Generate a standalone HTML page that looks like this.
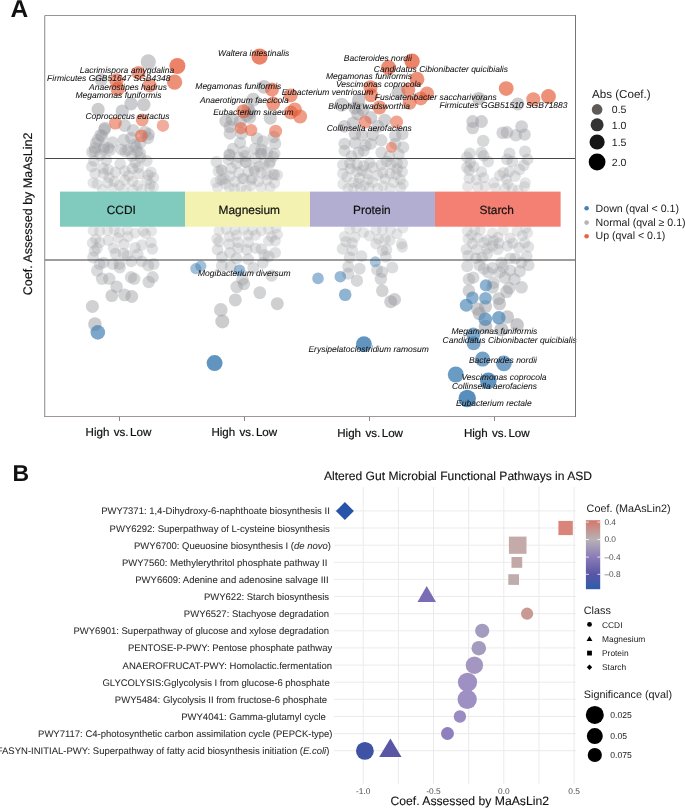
<!DOCTYPE html>
<html><head><meta charset="utf-8"><style>
html,body{margin:0;padding:0;background:#fff;}
svg{display:block;font-family:"Liberation Sans", sans-serif;text-rendering:geometricPrecision;will-change:transform;}
</style></head><body>
<svg width="685" height="808" viewBox="0 0 685 808">
<defs><filter id="sb" x="-5%" y="-5%" width="110%" height="110%"><feGaussianBlur stdDeviation="0.35"/></filter></defs>
<rect width="685" height="808" fill="#ffffff"/>
<text x="10.4" y="16.8" font-size="24.5" font-weight="bold" fill="#111111">A</text>
<g filter="url(#sb)">
<circle cx="148.3" cy="61.8" r="7.6" fill="#999aa0" fill-opacity="0.50"/>
<circle cx="101.1" cy="79.8" r="6.5" fill="#999aa0" fill-opacity="0.45"/>
<circle cx="98.1" cy="109.4" r="6.6" fill="#999aa0" fill-opacity="0.49"/>
<circle cx="131.0" cy="103.8" r="6.7" fill="#999aa0" fill-opacity="0.51"/>
<circle cx="143.8" cy="104.6" r="6.7" fill="#999aa0" fill-opacity="0.50"/>
<circle cx="122.2" cy="111.0" r="6.6" fill="#999aa0" fill-opacity="0.48"/>
<circle cx="124.6" cy="125.5" r="6.4" fill="#999aa0" fill-opacity="0.44"/>
<circle cx="104.5" cy="129.5" r="6.3" fill="#999aa0" fill-opacity="0.42"/>
<circle cx="100.5" cy="135.1" r="6.2" fill="#999aa0" fill-opacity="0.41"/>
<circle cx="148.7" cy="134.3" r="6.2" fill="#999aa0" fill-opacity="0.41"/>
<circle cx="112.5" cy="142.4" r="6.1" fill="#999aa0" fill-opacity="0.38"/>
<circle cx="123.8" cy="140.0" r="6.2" fill="#999aa0" fill-opacity="0.39"/>
<circle cx="94.9" cy="148.0" r="6.1" fill="#999aa0" fill-opacity="0.36"/>
<circle cx="103.7" cy="149.6" r="6.0" fill="#999aa0" fill-opacity="0.36"/>
<circle cx="121.4" cy="149.6" r="6.0" fill="#999aa0" fill-opacity="0.36"/>
<circle cx="137.4" cy="151.2" r="6.0" fill="#999aa0" fill-opacity="0.35"/>
<circle cx="134.2" cy="144.8" r="6.1" fill="#999aa0" fill-opacity="0.37"/>
<circle cx="140.6" cy="157.6" r="5.9" fill="#999aa0" fill-opacity="0.33"/>
<circle cx="94.0" cy="160.8" r="5.9" fill="#999aa0" fill-opacity="0.32"/>
<circle cx="133.2" cy="130.3" r="6.3" fill="#999aa0" fill-opacity="0.42"/>
<circle cx="140.4" cy="142.7" r="6.1" fill="#999aa0" fill-opacity="0.38"/>
<circle cx="131.2" cy="138.1" r="6.2" fill="#999aa0" fill-opacity="0.40"/>
<circle cx="94.5" cy="151.3" r="6.0" fill="#999aa0" fill-opacity="0.35"/>
<circle cx="108.3" cy="148.0" r="6.1" fill="#999aa0" fill-opacity="0.36"/>
<circle cx="125.3" cy="151.3" r="6.0" fill="#999aa0" fill-opacity="0.35"/>
<circle cx="106.3" cy="159.8" r="5.9" fill="#999aa0" fill-opacity="0.33"/>
<circle cx="120.1" cy="163.8" r="5.8" fill="#999aa0" fill-opacity="0.31"/>
<circle cx="135.2" cy="162.5" r="5.9" fill="#999aa0" fill-opacity="0.32"/>
<circle cx="132.6" cy="168.4" r="5.8" fill="#999aa0" fill-opacity="0.30"/>
<circle cx="108.3" cy="169.7" r="5.8" fill="#999aa0" fill-opacity="0.29"/>
<circle cx="103.0" cy="168.4" r="5.8" fill="#999aa0" fill-opacity="0.30"/>
<circle cx="95.1" cy="173.6" r="5.7" fill="#999aa0" fill-opacity="0.28"/>
<circle cx="115.5" cy="172.3" r="5.7" fill="#999aa0" fill-opacity="0.29"/>
<circle cx="124.7" cy="171.0" r="5.7" fill="#999aa0" fill-opacity="0.29"/>
<circle cx="128.6" cy="175.6" r="5.7" fill="#999aa0" fill-opacity="0.28"/>
<circle cx="139.1" cy="173.6" r="5.7" fill="#999aa0" fill-opacity="0.28"/>
<circle cx="148.3" cy="174.9" r="5.7" fill="#999aa0" fill-opacity="0.28"/>
<circle cx="151.0" cy="172.3" r="5.7" fill="#999aa0" fill-opacity="0.29"/>
<circle cx="93.1" cy="182.8" r="5.6" fill="#999aa0" fill-opacity="0.25"/>
<circle cx="97.1" cy="184.1" r="5.5" fill="#999aa0" fill-opacity="0.25"/>
<circle cx="107.6" cy="182.8" r="5.6" fill="#999aa0" fill-opacity="0.25"/>
<circle cx="114.2" cy="181.5" r="5.6" fill="#999aa0" fill-opacity="0.26"/>
<circle cx="119.4" cy="185.4" r="5.5" fill="#999aa0" fill-opacity="0.24"/>
<circle cx="124.7" cy="180.2" r="5.6" fill="#999aa0" fill-opacity="0.26"/>
<circle cx="132.6" cy="181.5" r="5.6" fill="#999aa0" fill-opacity="0.26"/>
<circle cx="137.8" cy="185.4" r="5.5" fill="#999aa0" fill-opacity="0.24"/>
<circle cx="147.0" cy="180.2" r="5.6" fill="#999aa0" fill-opacity="0.26"/>
<circle cx="150.3" cy="184.1" r="5.5" fill="#999aa0" fill-opacity="0.25"/>
<circle cx="153.6" cy="177.6" r="5.6" fill="#999aa0" fill-opacity="0.27"/>
<circle cx="102.3" cy="189.4" r="5.5" fill="#999aa0" fill-opacity="0.23"/>
<circle cx="112.9" cy="188.1" r="5.5" fill="#999aa0" fill-opacity="0.23"/>
<circle cx="123.4" cy="189.4" r="5.5" fill="#999aa0" fill-opacity="0.23"/>
<circle cx="132.6" cy="189.4" r="5.5" fill="#999aa0" fill-opacity="0.23"/>
<circle cx="141.8" cy="189.4" r="5.5" fill="#999aa0" fill-opacity="0.23"/>
<circle cx="149.6" cy="188.1" r="5.5" fill="#999aa0" fill-opacity="0.23"/>
<circle cx="153.6" cy="186.8" r="5.5" fill="#999aa0" fill-opacity="0.24"/>
<circle cx="93.1" cy="230.5" r="5.5" fill="#999aa0" fill-opacity="0.24"/>
<circle cx="99.7" cy="231.2" r="5.5" fill="#999aa0" fill-opacity="0.24"/>
<circle cx="107.6" cy="230.5" r="5.5" fill="#999aa0" fill-opacity="0.24"/>
<circle cx="114.2" cy="229.9" r="5.5" fill="#999aa0" fill-opacity="0.23"/>
<circle cx="119.4" cy="232.5" r="5.5" fill="#999aa0" fill-opacity="0.24"/>
<circle cx="127.3" cy="229.9" r="5.5" fill="#999aa0" fill-opacity="0.23"/>
<circle cx="135.2" cy="233.2" r="5.5" fill="#999aa0" fill-opacity="0.24"/>
<circle cx="143.1" cy="231.2" r="5.5" fill="#999aa0" fill-opacity="0.24"/>
<circle cx="145.7" cy="233.8" r="5.5" fill="#999aa0" fill-opacity="0.25"/>
<circle cx="151.6" cy="231.2" r="5.5" fill="#999aa0" fill-opacity="0.24"/>
<circle cx="92.5" cy="243.0" r="5.7" fill="#999aa0" fill-opacity="0.28"/>
<circle cx="95.8" cy="239.1" r="5.6" fill="#999aa0" fill-opacity="0.26"/>
<circle cx="99.7" cy="242.4" r="5.7" fill="#999aa0" fill-opacity="0.27"/>
<circle cx="108.3" cy="240.4" r="5.6" fill="#999aa0" fill-opacity="0.27"/>
<circle cx="118.1" cy="237.8" r="5.6" fill="#999aa0" fill-opacity="0.26"/>
<circle cx="128.0" cy="236.5" r="5.6" fill="#999aa0" fill-opacity="0.26"/>
<circle cx="124.0" cy="244.3" r="5.7" fill="#999aa0" fill-opacity="0.28"/>
<circle cx="141.8" cy="245.0" r="5.7" fill="#999aa0" fill-opacity="0.28"/>
<circle cx="151.0" cy="242.4" r="5.7" fill="#999aa0" fill-opacity="0.27"/>
<circle cx="152.3" cy="248.9" r="5.8" fill="#999aa0" fill-opacity="0.30"/>
<circle cx="135.2" cy="247.6" r="5.7" fill="#999aa0" fill-opacity="0.29"/>
<circle cx="137.8" cy="254.2" r="5.8" fill="#999aa0" fill-opacity="0.31"/>
<circle cx="113.5" cy="248.3" r="5.7" fill="#999aa0" fill-opacity="0.29"/>
<circle cx="115.5" cy="253.5" r="5.8" fill="#999aa0" fill-opacity="0.31"/>
<circle cx="123.4" cy="253.5" r="5.8" fill="#999aa0" fill-opacity="0.31"/>
<circle cx="127.3" cy="255.5" r="5.8" fill="#999aa0" fill-opacity="0.32"/>
<circle cx="94.5" cy="250.9" r="5.8" fill="#999aa0" fill-opacity="0.30"/>
<circle cx="93.1" cy="257.5" r="5.9" fill="#999aa0" fill-opacity="0.32"/>
<circle cx="97.1" cy="248.3" r="5.7" fill="#999aa0" fill-opacity="0.29"/>
<circle cx="103.7" cy="262.7" r="5.9" fill="#999aa0" fill-opacity="0.34"/>
<circle cx="99.7" cy="264.0" r="6.0" fill="#999aa0" fill-opacity="0.34"/>
<circle cx="112.9" cy="264.0" r="6.0" fill="#999aa0" fill-opacity="0.34"/>
<circle cx="119.4" cy="264.0" r="6.0" fill="#999aa0" fill-opacity="0.34"/>
<circle cx="131.2" cy="261.4" r="5.9" fill="#999aa0" fill-opacity="0.34"/>
<circle cx="141.8" cy="261.4" r="5.9" fill="#999aa0" fill-opacity="0.34"/>
<circle cx="148.3" cy="265.4" r="6.0" fill="#999aa0" fill-opacity="0.35"/>
<circle cx="153.6" cy="264.0" r="6.0" fill="#999aa0" fill-opacity="0.34"/>
<circle cx="97.1" cy="270.6" r="6.1" fill="#999aa0" fill-opacity="0.36"/>
<circle cx="119.8" cy="267.6" r="6.0" fill="#999aa0" fill-opacity="0.36"/>
<circle cx="102.1" cy="278.8" r="6.2" fill="#999aa0" fill-opacity="0.39"/>
<circle cx="109.3" cy="278.8" r="6.2" fill="#999aa0" fill-opacity="0.39"/>
<circle cx="131.0" cy="277.2" r="6.1" fill="#999aa0" fill-opacity="0.39"/>
<circle cx="134.2" cy="278.8" r="6.2" fill="#999aa0" fill-opacity="0.39"/>
<circle cx="148.7" cy="282.0" r="6.2" fill="#999aa0" fill-opacity="0.40"/>
<circle cx="152.7" cy="277.2" r="6.1" fill="#999aa0" fill-opacity="0.39"/>
<circle cx="116.6" cy="286.8" r="6.3" fill="#999aa0" fill-opacity="0.42"/>
<circle cx="111.8" cy="295.7" r="6.4" fill="#999aa0" fill-opacity="0.45"/>
<circle cx="124.6" cy="294.9" r="6.4" fill="#999aa0" fill-opacity="0.44"/>
<circle cx="131.8" cy="296.5" r="6.4" fill="#999aa0" fill-opacity="0.45"/>
<circle cx="92.4" cy="306.4" r="6.5" fill="#999aa0" fill-opacity="0.45"/>
<circle cx="94.9" cy="324.1" r="6.8" fill="#999aa0" fill-opacity="0.50"/>
<circle cx="264.0" cy="86.9" r="6.8" fill="#999aa0" fill-opacity="0.50"/>
<circle cx="253.2" cy="99.8" r="7.0" fill="#999aa0" fill-opacity="0.45"/>
<circle cx="248.2" cy="109.0" r="6.6" fill="#999aa0" fill-opacity="0.49"/>
<circle cx="270.3" cy="118.2" r="6.5" fill="#999aa0" fill-opacity="0.46"/>
<circle cx="249.9" cy="112.4" r="6.5" fill="#999aa0" fill-opacity="0.48"/>
<circle cx="225.7" cy="121.0" r="6.4" fill="#999aa0" fill-opacity="0.45"/>
<circle cx="232.1" cy="119.4" r="6.5" fill="#999aa0" fill-opacity="0.46"/>
<circle cx="240.1" cy="121.8" r="6.4" fill="#999aa0" fill-opacity="0.45"/>
<circle cx="246.6" cy="115.4" r="6.5" fill="#999aa0" fill-opacity="0.47"/>
<circle cx="249.6" cy="117.3" r="6.5" fill="#999aa0" fill-opacity="0.46"/>
<circle cx="229.9" cy="133.4" r="6.3" fill="#999aa0" fill-opacity="0.41"/>
<circle cx="229.9" cy="126.8" r="6.3" fill="#999aa0" fill-opacity="0.43"/>
<circle cx="241.6" cy="133.4" r="6.3" fill="#999aa0" fill-opacity="0.41"/>
<circle cx="256.9" cy="138.5" r="6.2" fill="#999aa0" fill-opacity="0.39"/>
<circle cx="262.8" cy="141.4" r="6.1" fill="#999aa0" fill-opacity="0.39"/>
<circle cx="273.7" cy="137.0" r="6.2" fill="#999aa0" fill-opacity="0.40"/>
<circle cx="275.2" cy="143.6" r="6.1" fill="#999aa0" fill-opacity="0.38"/>
<circle cx="240.1" cy="142.8" r="6.1" fill="#999aa0" fill-opacity="0.38"/>
<circle cx="232.8" cy="148.7" r="6.0" fill="#999aa0" fill-opacity="0.36"/>
<circle cx="243.8" cy="151.6" r="6.0" fill="#999aa0" fill-opacity="0.35"/>
<circle cx="254.7" cy="148.7" r="6.0" fill="#999aa0" fill-opacity="0.36"/>
<circle cx="261.3" cy="149.4" r="6.0" fill="#999aa0" fill-opacity="0.36"/>
<circle cx="229.2" cy="154.5" r="6.0" fill="#999aa0" fill-opacity="0.34"/>
<circle cx="228.5" cy="159.6" r="5.9" fill="#999aa0" fill-opacity="0.33"/>
<circle cx="238.7" cy="157.4" r="5.9" fill="#999aa0" fill-opacity="0.33"/>
<circle cx="245.3" cy="156.0" r="5.9" fill="#999aa0" fill-opacity="0.34"/>
<circle cx="255.5" cy="158.2" r="5.9" fill="#999aa0" fill-opacity="0.33"/>
<circle cx="261.3" cy="153.8" r="6.0" fill="#999aa0" fill-opacity="0.35"/>
<circle cx="267.2" cy="152.3" r="6.0" fill="#999aa0" fill-opacity="0.35"/>
<circle cx="273.0" cy="156.7" r="5.9" fill="#999aa0" fill-opacity="0.34"/>
<circle cx="274.5" cy="153.8" r="6.0" fill="#999aa0" fill-opacity="0.35"/>
<circle cx="236.5" cy="163.3" r="5.8" fill="#999aa0" fill-opacity="0.31"/>
<circle cx="245.3" cy="161.8" r="5.9" fill="#999aa0" fill-opacity="0.32"/>
<circle cx="264.2" cy="164.0" r="5.8" fill="#999aa0" fill-opacity="0.31"/>
<circle cx="270.1" cy="161.8" r="5.9" fill="#999aa0" fill-opacity="0.32"/>
<circle cx="218.2" cy="171.3" r="5.7" fill="#999aa0" fill-opacity="0.29"/>
<circle cx="221.9" cy="169.9" r="5.7" fill="#999aa0" fill-opacity="0.29"/>
<circle cx="231.4" cy="168.4" r="5.8" fill="#999aa0" fill-opacity="0.30"/>
<circle cx="238.7" cy="172.8" r="5.7" fill="#999aa0" fill-opacity="0.28"/>
<circle cx="248.2" cy="171.3" r="5.7" fill="#999aa0" fill-opacity="0.29"/>
<circle cx="254.0" cy="168.4" r="5.8" fill="#999aa0" fill-opacity="0.30"/>
<circle cx="261.3" cy="172.8" r="5.7" fill="#999aa0" fill-opacity="0.28"/>
<circle cx="273.0" cy="174.2" r="5.7" fill="#999aa0" fill-opacity="0.28"/>
<circle cx="277.4" cy="175.0" r="5.7" fill="#999aa0" fill-opacity="0.28"/>
<circle cx="220.4" cy="180.1" r="5.6" fill="#999aa0" fill-opacity="0.26"/>
<circle cx="224.8" cy="178.6" r="5.6" fill="#999aa0" fill-opacity="0.27"/>
<circle cx="235.0" cy="181.5" r="5.6" fill="#999aa0" fill-opacity="0.26"/>
<circle cx="243.8" cy="178.6" r="5.6" fill="#999aa0" fill-opacity="0.27"/>
<circle cx="251.1" cy="180.1" r="5.6" fill="#999aa0" fill-opacity="0.26"/>
<circle cx="258.4" cy="181.5" r="5.6" fill="#999aa0" fill-opacity="0.26"/>
<circle cx="267.2" cy="180.1" r="5.6" fill="#999aa0" fill-opacity="0.26"/>
<circle cx="274.5" cy="183.0" r="5.6" fill="#999aa0" fill-opacity="0.25"/>
<circle cx="217.5" cy="187.4" r="5.5" fill="#999aa0" fill-opacity="0.24"/>
<circle cx="229.2" cy="187.4" r="5.5" fill="#999aa0" fill-opacity="0.24"/>
<circle cx="240.9" cy="187.4" r="5.5" fill="#999aa0" fill-opacity="0.24"/>
<circle cx="251.1" cy="185.9" r="5.5" fill="#999aa0" fill-opacity="0.24"/>
<circle cx="261.3" cy="187.4" r="5.5" fill="#999aa0" fill-opacity="0.24"/>
<circle cx="270.1" cy="187.4" r="5.5" fill="#999aa0" fill-opacity="0.24"/>
<circle cx="219.0" cy="230.8" r="5.5" fill="#999aa0" fill-opacity="0.24"/>
<circle cx="226.3" cy="229.3" r="5.5" fill="#999aa0" fill-opacity="0.23"/>
<circle cx="235.0" cy="230.0" r="5.5" fill="#999aa0" fill-opacity="0.23"/>
<circle cx="243.8" cy="229.3" r="5.5" fill="#999aa0" fill-opacity="0.23"/>
<circle cx="252.6" cy="230.0" r="5.5" fill="#999aa0" fill-opacity="0.23"/>
<circle cx="261.3" cy="230.8" r="5.5" fill="#999aa0" fill-opacity="0.24"/>
<circle cx="268.6" cy="229.3" r="5.5" fill="#999aa0" fill-opacity="0.23"/>
<circle cx="275.9" cy="227.8" r="5.5" fill="#999aa0" fill-opacity="0.23"/>
<circle cx="277.4" cy="234.4" r="5.6" fill="#999aa0" fill-opacity="0.25"/>
<circle cx="271.5" cy="236.6" r="5.6" fill="#999aa0" fill-opacity="0.26"/>
<circle cx="275.2" cy="241.0" r="5.6" fill="#999aa0" fill-opacity="0.27"/>
<circle cx="268.6" cy="241.0" r="5.6" fill="#999aa0" fill-opacity="0.27"/>
<circle cx="216.8" cy="238.8" r="5.6" fill="#999aa0" fill-opacity="0.26"/>
<circle cx="219.0" cy="241.7" r="5.7" fill="#999aa0" fill-opacity="0.27"/>
<circle cx="229.2" cy="236.6" r="5.6" fill="#999aa0" fill-opacity="0.26"/>
<circle cx="236.5" cy="235.1" r="5.6" fill="#999aa0" fill-opacity="0.25"/>
<circle cx="248.2" cy="235.1" r="5.6" fill="#999aa0" fill-opacity="0.25"/>
<circle cx="255.5" cy="235.1" r="5.6" fill="#999aa0" fill-opacity="0.25"/>
<circle cx="229.2" cy="243.9" r="5.7" fill="#999aa0" fill-opacity="0.28"/>
<circle cx="238.0" cy="242.4" r="5.7" fill="#999aa0" fill-opacity="0.27"/>
<circle cx="248.2" cy="242.4" r="5.7" fill="#999aa0" fill-opacity="0.27"/>
<circle cx="217.5" cy="249.7" r="5.8" fill="#999aa0" fill-opacity="0.30"/>
<circle cx="229.9" cy="252.7" r="5.8" fill="#999aa0" fill-opacity="0.31"/>
<circle cx="238.0" cy="248.3" r="5.7" fill="#999aa0" fill-opacity="0.29"/>
<circle cx="246.7" cy="249.7" r="5.8" fill="#999aa0" fill-opacity="0.30"/>
<circle cx="255.5" cy="248.3" r="5.7" fill="#999aa0" fill-opacity="0.29"/>
<circle cx="261.3" cy="249.0" r="5.8" fill="#999aa0" fill-opacity="0.30"/>
<circle cx="264.2" cy="254.8" r="5.8" fill="#999aa0" fill-opacity="0.31"/>
<circle cx="268.6" cy="256.3" r="5.9" fill="#999aa0" fill-opacity="0.32"/>
<circle cx="275.2" cy="252.7" r="5.8" fill="#999aa0" fill-opacity="0.31"/>
<circle cx="221.9" cy="257.0" r="5.9" fill="#999aa0" fill-opacity="0.32"/>
<circle cx="236.5" cy="258.5" r="5.9" fill="#999aa0" fill-opacity="0.33"/>
<circle cx="248.2" cy="259.2" r="5.9" fill="#999aa0" fill-opacity="0.33"/>
<circle cx="262.8" cy="262.9" r="5.9" fill="#999aa0" fill-opacity="0.34"/>
<circle cx="221.9" cy="265.8" r="6.0" fill="#999aa0" fill-opacity="0.35"/>
<circle cx="230.7" cy="266.5" r="6.0" fill="#999aa0" fill-opacity="0.35"/>
<circle cx="253.3" cy="268.0" r="6.0" fill="#999aa0" fill-opacity="0.36"/>
<circle cx="236.7" cy="286.9" r="6.3" fill="#999aa0" fill-opacity="0.42"/>
<circle cx="244.0" cy="284.1" r="6.2" fill="#999aa0" fill-opacity="0.41"/>
<circle cx="242.5" cy="279.5" r="6.2" fill="#999aa0" fill-opacity="0.39"/>
<circle cx="271.6" cy="275.7" r="6.1" fill="#999aa0" fill-opacity="0.38"/>
<circle cx="259.8" cy="292.6" r="6.4" fill="#999aa0" fill-opacity="0.44"/>
<circle cx="235.3" cy="299.9" r="6.5" fill="#999aa0" fill-opacity="0.46"/>
<circle cx="277.3" cy="303.7" r="6.5" fill="#999aa0" fill-opacity="0.47"/>
<circle cx="220.8" cy="309.9" r="6.8" fill="#999aa0" fill-opacity="0.45"/>
<circle cx="222.3" cy="321.4" r="7.0" fill="#999aa0" fill-opacity="0.50"/>
<circle cx="341.6" cy="104.8" r="7.0" fill="#999aa0" fill-opacity="0.45"/>
<circle cx="398.5" cy="92.4" r="7.0" fill="#999aa0" fill-opacity="0.50"/>
<circle cx="358.7" cy="100.0" r="6.7" fill="#999aa0" fill-opacity="0.52"/>
<circle cx="357.7" cy="114.0" r="6.5" fill="#999aa0" fill-opacity="0.47"/>
<circle cx="355.0" cy="107.9" r="6.6" fill="#999aa0" fill-opacity="0.49"/>
<circle cx="362.9" cy="109.6" r="6.6" fill="#999aa0" fill-opacity="0.49"/>
<circle cx="370.8" cy="117.5" r="6.5" fill="#999aa0" fill-opacity="0.46"/>
<circle cx="384.8" cy="120.1" r="6.4" fill="#999aa0" fill-opacity="0.45"/>
<circle cx="353.3" cy="122.8" r="6.4" fill="#999aa0" fill-opacity="0.45"/>
<circle cx="344.5" cy="126.3" r="6.4" fill="#999aa0" fill-opacity="0.43"/>
<circle cx="377.8" cy="126.3" r="6.4" fill="#999aa0" fill-opacity="0.43"/>
<circle cx="355.0" cy="134.2" r="6.2" fill="#999aa0" fill-opacity="0.41"/>
<circle cx="362.0" cy="135.0" r="6.2" fill="#999aa0" fill-opacity="0.41"/>
<circle cx="372.6" cy="135.0" r="6.2" fill="#999aa0" fill-opacity="0.41"/>
<circle cx="381.3" cy="140.3" r="6.2" fill="#999aa0" fill-opacity="0.39"/>
<circle cx="395.3" cy="135.9" r="6.2" fill="#999aa0" fill-opacity="0.40"/>
<circle cx="402.3" cy="134.2" r="6.2" fill="#999aa0" fill-opacity="0.41"/>
<circle cx="344.5" cy="143.8" r="6.1" fill="#999aa0" fill-opacity="0.38"/>
<circle cx="355.0" cy="142.9" r="6.1" fill="#999aa0" fill-opacity="0.38"/>
<circle cx="365.5" cy="145.5" r="6.1" fill="#999aa0" fill-opacity="0.37"/>
<circle cx="370.8" cy="143.8" r="6.1" fill="#999aa0" fill-opacity="0.38"/>
<circle cx="344.5" cy="150.8" r="6.0" fill="#999aa0" fill-opacity="0.35"/>
<circle cx="358.5" cy="152.6" r="6.0" fill="#999aa0" fill-opacity="0.35"/>
<circle cx="363.8" cy="150.8" r="6.0" fill="#999aa0" fill-opacity="0.35"/>
<circle cx="381.3" cy="152.6" r="6.0" fill="#999aa0" fill-opacity="0.35"/>
<circle cx="395.3" cy="143.8" r="6.1" fill="#999aa0" fill-opacity="0.38"/>
<circle cx="403.2" cy="147.3" r="6.1" fill="#999aa0" fill-opacity="0.37"/>
<circle cx="398.8" cy="154.3" r="6.0" fill="#999aa0" fill-opacity="0.34"/>
<circle cx="351.5" cy="156.1" r="5.9" fill="#999aa0" fill-opacity="0.34"/>
<circle cx="389.2" cy="156.1" r="5.9" fill="#999aa0" fill-opacity="0.34"/>
<circle cx="342.8" cy="164.8" r="5.8" fill="#999aa0" fill-opacity="0.31"/>
<circle cx="349.8" cy="163.1" r="5.8" fill="#999aa0" fill-opacity="0.32"/>
<circle cx="363.8" cy="165.7" r="5.8" fill="#999aa0" fill-opacity="0.31"/>
<circle cx="372.6" cy="167.4" r="5.8" fill="#999aa0" fill-opacity="0.30"/>
<circle cx="381.3" cy="164.8" r="5.8" fill="#999aa0" fill-opacity="0.31"/>
<circle cx="386.6" cy="161.3" r="5.9" fill="#999aa0" fill-opacity="0.32"/>
<circle cx="397.1" cy="163.1" r="5.8" fill="#999aa0" fill-opacity="0.32"/>
<circle cx="402.3" cy="163.1" r="5.8" fill="#999aa0" fill-opacity="0.32"/>
<circle cx="342.8" cy="173.6" r="5.7" fill="#999aa0" fill-opacity="0.28"/>
<circle cx="356.8" cy="171.8" r="5.7" fill="#999aa0" fill-opacity="0.29"/>
<circle cx="367.3" cy="173.6" r="5.7" fill="#999aa0" fill-opacity="0.28"/>
<circle cx="377.8" cy="175.3" r="5.7" fill="#999aa0" fill-opacity="0.28"/>
<circle cx="390.1" cy="173.6" r="5.7" fill="#999aa0" fill-opacity="0.28"/>
<circle cx="402.3" cy="171.8" r="5.7" fill="#999aa0" fill-opacity="0.29"/>
<circle cx="342.8" cy="184.1" r="5.5" fill="#999aa0" fill-opacity="0.25"/>
<circle cx="353.3" cy="182.3" r="5.6" fill="#999aa0" fill-opacity="0.25"/>
<circle cx="363.8" cy="185.8" r="5.5" fill="#999aa0" fill-opacity="0.24"/>
<circle cx="372.6" cy="182.3" r="5.6" fill="#999aa0" fill-opacity="0.25"/>
<circle cx="383.1" cy="185.8" r="5.5" fill="#999aa0" fill-opacity="0.24"/>
<circle cx="393.6" cy="182.3" r="5.6" fill="#999aa0" fill-opacity="0.25"/>
<circle cx="403.2" cy="184.1" r="5.5" fill="#999aa0" fill-opacity="0.25"/>
<circle cx="348.0" cy="188.5" r="5.5" fill="#999aa0" fill-opacity="0.23"/>
<circle cx="360.3" cy="188.5" r="5.5" fill="#999aa0" fill-opacity="0.23"/>
<circle cx="377.8" cy="188.5" r="5.5" fill="#999aa0" fill-opacity="0.23"/>
<circle cx="390.1" cy="188.5" r="5.5" fill="#999aa0" fill-opacity="0.23"/>
<circle cx="400.6" cy="187.6" r="5.5" fill="#999aa0" fill-opacity="0.24"/>
<circle cx="394.6" cy="299.5" r="6.5" fill="#999aa0" fill-opacity="0.46"/>
<circle cx="390.7" cy="301.7" r="6.5" fill="#999aa0" fill-opacity="0.47"/>
<circle cx="382.3" cy="290.7" r="6.3" fill="#999aa0" fill-opacity="0.43"/>
<circle cx="380.9" cy="279.0" r="6.2" fill="#999aa0" fill-opacity="0.39"/>
<circle cx="382.0" cy="272.0" r="6.1" fill="#999aa0" fill-opacity="0.37"/>
<circle cx="377.1" cy="269.7" r="6.0" fill="#999aa0" fill-opacity="0.36"/>
<circle cx="392.3" cy="267.4" r="6.0" fill="#999aa0" fill-opacity="0.35"/>
<circle cx="356.9" cy="280.7" r="6.2" fill="#999aa0" fill-opacity="0.40"/>
<circle cx="359.6" cy="268.8" r="6.0" fill="#999aa0" fill-opacity="0.36"/>
<circle cx="348.2" cy="273.7" r="6.1" fill="#999aa0" fill-opacity="0.37"/>
<circle cx="348.2" cy="266.7" r="6.0" fill="#999aa0" fill-opacity="0.35"/>
<circle cx="349.7" cy="229.2" r="5.5" fill="#999aa0" fill-opacity="0.23"/>
<circle cx="356.3" cy="227.9" r="5.5" fill="#999aa0" fill-opacity="0.23"/>
<circle cx="363.5" cy="232.5" r="5.5" fill="#999aa0" fill-opacity="0.24"/>
<circle cx="369.4" cy="235.8" r="5.6" fill="#999aa0" fill-opacity="0.25"/>
<circle cx="376.0" cy="229.9" r="5.5" fill="#999aa0" fill-opacity="0.23"/>
<circle cx="382.6" cy="229.9" r="5.5" fill="#999aa0" fill-opacity="0.23"/>
<circle cx="390.4" cy="229.9" r="5.5" fill="#999aa0" fill-opacity="0.23"/>
<circle cx="397.0" cy="233.8" r="5.5" fill="#999aa0" fill-opacity="0.25"/>
<circle cx="402.9" cy="227.9" r="5.5" fill="#999aa0" fill-opacity="0.23"/>
<circle cx="344.5" cy="236.5" r="5.6" fill="#999aa0" fill-opacity="0.26"/>
<circle cx="345.8" cy="241.7" r="5.7" fill="#999aa0" fill-opacity="0.27"/>
<circle cx="355.0" cy="237.1" r="5.6" fill="#999aa0" fill-opacity="0.26"/>
<circle cx="352.3" cy="243.0" r="5.7" fill="#999aa0" fill-opacity="0.28"/>
<circle cx="342.5" cy="248.9" r="5.8" fill="#999aa0" fill-opacity="0.30"/>
<circle cx="352.3" cy="250.3" r="5.8" fill="#999aa0" fill-opacity="0.30"/>
<circle cx="361.5" cy="256.2" r="5.9" fill="#999aa0" fill-opacity="0.32"/>
<circle cx="349.7" cy="257.5" r="5.9" fill="#999aa0" fill-opacity="0.32"/>
<circle cx="376.0" cy="243.7" r="5.7" fill="#999aa0" fill-opacity="0.28"/>
<circle cx="378.6" cy="239.1" r="5.6" fill="#999aa0" fill-opacity="0.26"/>
<circle cx="385.2" cy="239.1" r="5.6" fill="#999aa0" fill-opacity="0.26"/>
<circle cx="389.8" cy="240.4" r="5.6" fill="#999aa0" fill-opacity="0.27"/>
<circle cx="382.6" cy="250.3" r="5.8" fill="#999aa0" fill-opacity="0.30"/>
<circle cx="386.5" cy="249.6" r="5.8" fill="#999aa0" fill-opacity="0.30"/>
<circle cx="385.8" cy="256.8" r="5.9" fill="#999aa0" fill-opacity="0.32"/>
<circle cx="401.6" cy="243.7" r="5.7" fill="#999aa0" fill-opacity="0.28"/>
<circle cx="402.3" cy="247.0" r="5.7" fill="#999aa0" fill-opacity="0.29"/>
<circle cx="478.7" cy="98.6" r="6.7" fill="#999aa0" fill-opacity="0.52"/>
<circle cx="517.8" cy="103.9" r="6.5" fill="#999aa0" fill-opacity="0.50"/>
<circle cx="472.7" cy="128.0" r="6.3" fill="#999aa0" fill-opacity="0.43"/>
<circle cx="472.7" cy="121.5" r="6.4" fill="#999aa0" fill-opacity="0.45"/>
<circle cx="481.5" cy="121.5" r="6.4" fill="#999aa0" fill-opacity="0.45"/>
<circle cx="483.2" cy="140.9" r="6.2" fill="#999aa0" fill-opacity="0.39"/>
<circle cx="502.7" cy="132.8" r="6.3" fill="#999aa0" fill-opacity="0.41"/>
<circle cx="507.0" cy="132.4" r="6.3" fill="#999aa0" fill-opacity="0.41"/>
<circle cx="515.8" cy="135.3" r="6.2" fill="#999aa0" fill-opacity="0.40"/>
<circle cx="521.6" cy="126.6" r="6.4" fill="#999aa0" fill-opacity="0.43"/>
<circle cx="524.6" cy="134.6" r="6.2" fill="#999aa0" fill-opacity="0.41"/>
<circle cx="525.0" cy="151.4" r="6.0" fill="#999aa0" fill-opacity="0.35"/>
<circle cx="469.8" cy="153.6" r="6.0" fill="#999aa0" fill-opacity="0.35"/>
<circle cx="466.9" cy="157.2" r="5.9" fill="#999aa0" fill-opacity="0.33"/>
<circle cx="481.5" cy="152.8" r="6.0" fill="#999aa0" fill-opacity="0.35"/>
<circle cx="483.7" cy="155.8" r="5.9" fill="#999aa0" fill-opacity="0.34"/>
<circle cx="488.1" cy="161.6" r="5.9" fill="#999aa0" fill-opacity="0.32"/>
<circle cx="509.5" cy="153.6" r="6.0" fill="#999aa0" fill-opacity="0.35"/>
<circle cx="507.0" cy="159.4" r="5.9" fill="#999aa0" fill-opacity="0.33"/>
<circle cx="512.2" cy="161.6" r="5.9" fill="#999aa0" fill-opacity="0.32"/>
<circle cx="527.5" cy="159.4" r="5.9" fill="#999aa0" fill-opacity="0.33"/>
<circle cx="523.8" cy="165.3" r="5.8" fill="#999aa0" fill-opacity="0.31"/>
<circle cx="466.9" cy="167.4" r="5.8" fill="#999aa0" fill-opacity="0.30"/>
<circle cx="469.1" cy="170.4" r="5.7" fill="#999aa0" fill-opacity="0.29"/>
<circle cx="481.5" cy="171.8" r="5.7" fill="#999aa0" fill-opacity="0.29"/>
<circle cx="519.5" cy="169.6" r="5.8" fill="#999aa0" fill-opacity="0.29"/>
<circle cx="499.7" cy="175.5" r="5.7" fill="#999aa0" fill-opacity="0.28"/>
<circle cx="503.4" cy="172.6" r="5.7" fill="#999aa0" fill-opacity="0.28"/>
<circle cx="509.2" cy="171.8" r="5.7" fill="#999aa0" fill-opacity="0.29"/>
<circle cx="515.1" cy="176.2" r="5.7" fill="#999aa0" fill-opacity="0.27"/>
<circle cx="469.1" cy="178.4" r="5.6" fill="#999aa0" fill-opacity="0.27"/>
<circle cx="476.4" cy="179.9" r="5.6" fill="#999aa0" fill-opacity="0.26"/>
<circle cx="483.7" cy="177.7" r="5.6" fill="#999aa0" fill-opacity="0.27"/>
<circle cx="493.9" cy="182.8" r="5.6" fill="#999aa0" fill-opacity="0.25"/>
<circle cx="506.3" cy="179.1" r="5.6" fill="#999aa0" fill-opacity="0.26"/>
<circle cx="507.8" cy="184.2" r="5.5" fill="#999aa0" fill-opacity="0.25"/>
<circle cx="525.3" cy="182.8" r="5.6" fill="#999aa0" fill-opacity="0.25"/>
<circle cx="524.6" cy="186.4" r="5.5" fill="#999aa0" fill-opacity="0.24"/>
<circle cx="467.6" cy="186.4" r="5.5" fill="#999aa0" fill-opacity="0.24"/>
<circle cx="477.8" cy="187.2" r="5.5" fill="#999aa0" fill-opacity="0.24"/>
<circle cx="485.1" cy="186.4" r="5.5" fill="#999aa0" fill-opacity="0.24"/>
<circle cx="495.4" cy="187.9" r="5.5" fill="#999aa0" fill-opacity="0.24"/>
<circle cx="512.2" cy="188.6" r="5.5" fill="#999aa0" fill-opacity="0.23"/>
<circle cx="518.0" cy="190.1" r="5.5" fill="#999aa0" fill-opacity="0.23"/>
<circle cx="467.2" cy="266.2" r="6.0" fill="#999aa0" fill-opacity="0.35"/>
<circle cx="473.3" cy="277.6" r="6.2" fill="#999aa0" fill-opacity="0.39"/>
<circle cx="468.9" cy="279.3" r="6.2" fill="#999aa0" fill-opacity="0.39"/>
<circle cx="468.9" cy="290.7" r="6.3" fill="#999aa0" fill-opacity="0.43"/>
<circle cx="477.7" cy="309.1" r="6.6" fill="#999aa0" fill-opacity="0.49"/>
<circle cx="485.5" cy="306.5" r="6.6" fill="#999aa0" fill-opacity="0.48"/>
<circle cx="492.6" cy="287.2" r="6.3" fill="#999aa0" fill-opacity="0.42"/>
<circle cx="493.4" cy="282.8" r="6.2" fill="#999aa0" fill-opacity="0.40"/>
<circle cx="498.7" cy="298.6" r="6.4" fill="#999aa0" fill-opacity="0.46"/>
<circle cx="499.6" cy="303.8" r="6.5" fill="#999aa0" fill-opacity="0.47"/>
<circle cx="506.6" cy="291.6" r="6.4" fill="#999aa0" fill-opacity="0.43"/>
<circle cx="509.2" cy="288.1" r="6.3" fill="#999aa0" fill-opacity="0.42"/>
<circle cx="507.4" cy="317.0" r="6.7" fill="#999aa0" fill-opacity="0.51"/>
<circle cx="517.1" cy="324.9" r="6.8" fill="#999aa0" fill-opacity="0.54"/>
<circle cx="521.5" cy="287.2" r="6.3" fill="#999aa0" fill-opacity="0.42"/>
<circle cx="514.5" cy="279.3" r="6.2" fill="#999aa0" fill-opacity="0.39"/>
<circle cx="504.8" cy="277.6" r="6.2" fill="#999aa0" fill-opacity="0.39"/>
<circle cx="499.6" cy="272.3" r="6.1" fill="#999aa0" fill-opacity="0.37"/>
<circle cx="488.2" cy="272.3" r="6.1" fill="#999aa0" fill-opacity="0.37"/>
<circle cx="483.8" cy="268.8" r="6.0" fill="#999aa0" fill-opacity="0.36"/>
<circle cx="479.4" cy="265.3" r="6.0" fill="#999aa0" fill-opacity="0.35"/>
<circle cx="492.6" cy="267.9" r="6.0" fill="#999aa0" fill-opacity="0.36"/>
<circle cx="503.1" cy="267.0" r="6.0" fill="#999aa0" fill-opacity="0.35"/>
<circle cx="510.1" cy="270.5" r="6.1" fill="#999aa0" fill-opacity="0.36"/>
<circle cx="519.7" cy="271.4" r="6.1" fill="#999aa0" fill-opacity="0.37"/>
<circle cx="521.5" cy="262.7" r="5.9" fill="#999aa0" fill-opacity="0.34"/>
<circle cx="528.5" cy="265.3" r="6.0" fill="#999aa0" fill-opacity="0.35"/>
<circle cx="526.7" cy="256.5" r="5.9" fill="#999aa0" fill-opacity="0.32"/>
<circle cx="528.5" cy="246.9" r="5.7" fill="#999aa0" fill-opacity="0.29"/>
<circle cx="518.8" cy="247.8" r="5.7" fill="#999aa0" fill-opacity="0.29"/>
<circle cx="515.3" cy="258.3" r="5.9" fill="#999aa0" fill-opacity="0.33"/>
<circle cx="510.1" cy="258.3" r="5.9" fill="#999aa0" fill-opacity="0.33"/>
<circle cx="507.4" cy="246.0" r="5.7" fill="#999aa0" fill-opacity="0.29"/>
<circle cx="497.8" cy="249.5" r="5.8" fill="#999aa0" fill-opacity="0.30"/>
<circle cx="487.3" cy="253.9" r="5.8" fill="#999aa0" fill-opacity="0.31"/>
<circle cx="476.8" cy="249.5" r="5.8" fill="#999aa0" fill-opacity="0.30"/>
<circle cx="466.3" cy="249.5" r="5.8" fill="#999aa0" fill-opacity="0.30"/>
<circle cx="468.0" cy="255.7" r="5.8" fill="#999aa0" fill-opacity="0.32"/>
<circle cx="483.8" cy="242.5" r="5.7" fill="#999aa0" fill-opacity="0.27"/>
<circle cx="492.6" cy="246.0" r="5.7" fill="#999aa0" fill-opacity="0.29"/>
<circle cx="468.0" cy="239.0" r="5.6" fill="#999aa0" fill-opacity="0.26"/>
<circle cx="477.7" cy="238.1" r="5.6" fill="#999aa0" fill-opacity="0.26"/>
<circle cx="487.3" cy="239.9" r="5.6" fill="#999aa0" fill-opacity="0.27"/>
<circle cx="497.8" cy="237.3" r="5.6" fill="#999aa0" fill-opacity="0.26"/>
<circle cx="510.1" cy="238.1" r="5.6" fill="#999aa0" fill-opacity="0.26"/>
<circle cx="522.3" cy="235.5" r="5.6" fill="#999aa0" fill-opacity="0.25"/>
<circle cx="527.6" cy="232.9" r="5.5" fill="#999aa0" fill-opacity="0.24"/>
<circle cx="467.2" cy="231.1" r="5.5" fill="#999aa0" fill-opacity="0.24"/>
<circle cx="480.3" cy="230.3" r="5.5" fill="#999aa0" fill-opacity="0.24"/>
<circle cx="492.6" cy="232.9" r="5.5" fill="#999aa0" fill-opacity="0.24"/>
<circle cx="503.1" cy="230.3" r="5.5" fill="#999aa0" fill-opacity="0.24"/>
<circle cx="517.1" cy="231.1" r="5.5" fill="#999aa0" fill-opacity="0.24"/>
<circle cx="475.9" cy="258.3" r="5.9" fill="#999aa0" fill-opacity="0.33"/>
<circle cx="501.3" cy="262.7" r="5.9" fill="#999aa0" fill-opacity="0.34"/>
<circle cx="479.4" cy="313.5" r="6.7" fill="#999aa0" fill-opacity="0.50"/>
<circle cx="501.3" cy="329.3" r="6.9" fill="#999aa0" fill-opacity="0.55"/>
<circle cx="485.5" cy="326.6" r="6.8" fill="#999aa0" fill-opacity="0.55"/>
<circle cx="138.1" cy="167.7" r="5.8" fill="#999aa0" fill-opacity="0.30"/>
<circle cx="146.8" cy="160.9" r="5.9" fill="#999aa0" fill-opacity="0.32"/>
<circle cx="91.8" cy="166.7" r="5.8" fill="#999aa0" fill-opacity="0.30"/>
<circle cx="103.8" cy="173.8" r="5.7" fill="#999aa0" fill-opacity="0.28"/>
<circle cx="109.1" cy="177.6" r="5.6" fill="#999aa0" fill-opacity="0.27"/>
<circle cx="221.1" cy="169.9" r="5.7" fill="#999aa0" fill-opacity="0.29"/>
<circle cx="222.4" cy="179.8" r="5.6" fill="#999aa0" fill-opacity="0.26"/>
<circle cx="254.6" cy="171.1" r="5.7" fill="#999aa0" fill-opacity="0.29"/>
<circle cx="252.1" cy="178.5" r="5.6" fill="#999aa0" fill-opacity="0.27"/>
<circle cx="269.5" cy="163.6" r="5.8" fill="#999aa0" fill-opacity="0.31"/>
<circle cx="229.8" cy="155.0" r="6.0" fill="#999aa0" fill-opacity="0.34"/>
<circle cx="260.8" cy="153.7" r="6.0" fill="#999aa0" fill-opacity="0.35"/>
<circle cx="274.5" cy="174.8" r="5.7" fill="#999aa0" fill-opacity="0.28"/>
<circle cx="242.2" cy="178.5" r="5.6" fill="#999aa0" fill-opacity="0.27"/>
<circle cx="246.0" cy="162.4" r="5.9" fill="#999aa0" fill-opacity="0.32"/>
<circle cx="229.8" cy="176.3" r="5.7" fill="#999aa0" fill-opacity="0.27"/>
<circle cx="266.9" cy="174.3" r="5.7" fill="#999aa0" fill-opacity="0.28"/>
<circle cx="259.3" cy="166.3" r="5.8" fill="#999aa0" fill-opacity="0.30"/>
<circle cx="246.3" cy="190.0" r="5.5" fill="#999aa0" fill-opacity="0.23"/>
<circle cx="234.5" cy="188.8" r="5.5" fill="#999aa0" fill-opacity="0.23"/>
<circle cx="216.4" cy="161.8" r="5.9" fill="#999aa0" fill-opacity="0.32"/>
<circle cx="215.8" cy="182.4" r="5.6" fill="#999aa0" fill-opacity="0.25"/>
<circle cx="225.6" cy="183.8" r="5.6" fill="#999aa0" fill-opacity="0.25"/>
<circle cx="400.4" cy="179.5" r="5.6" fill="#999aa0" fill-opacity="0.26"/>
<circle cx="391.0" cy="164.2" r="5.8" fill="#999aa0" fill-opacity="0.31"/>
<circle cx="353.1" cy="188.2" r="5.5" fill="#999aa0" fill-opacity="0.23"/>
<circle cx="397.2" cy="169.0" r="5.8" fill="#999aa0" fill-opacity="0.30"/>
<circle cx="359.3" cy="178.1" r="5.6" fill="#999aa0" fill-opacity="0.27"/>
<circle cx="362.0" cy="170.6" r="5.7" fill="#999aa0" fill-opacity="0.29"/>
<circle cx="382.6" cy="172.6" r="5.7" fill="#999aa0" fill-opacity="0.28"/>
<circle cx="368.2" cy="179.5" r="5.6" fill="#999aa0" fill-opacity="0.26"/>
<circle cx="346.9" cy="177.0" r="5.6" fill="#999aa0" fill-opacity="0.27"/>
<circle cx="357.1" cy="164.6" r="5.8" fill="#999aa0" fill-opacity="0.31"/>
<circle cx="369.2" cy="187.5" r="5.5" fill="#999aa0" fill-opacity="0.24"/>
<circle cx="385.3" cy="179.0" r="5.6" fill="#999aa0" fill-opacity="0.26"/>
<circle cx="358.3" cy="183.4" r="5.6" fill="#999aa0" fill-opacity="0.25"/>
<circle cx="396.1" cy="174.4" r="5.7" fill="#999aa0" fill-opacity="0.28"/>
<circle cx="369.8" cy="163.0" r="5.8" fill="#999aa0" fill-opacity="0.32"/>
<circle cx="350.3" cy="168.6" r="5.8" fill="#999aa0" fill-opacity="0.30"/>
<circle cx="470.3" cy="162.7" r="5.8" fill="#999aa0" fill-opacity="0.32"/>
<circle cx="473.7" cy="166.7" r="5.8" fill="#999aa0" fill-opacity="0.30"/>
<circle cx="504.9" cy="188.4" r="5.5" fill="#999aa0" fill-opacity="0.23"/>
<circle cx="471.6" cy="235.0" r="5.6" fill="#999aa0" fill-opacity="0.25"/>
<circle cx="482.0" cy="257.7" r="5.9" fill="#999aa0" fill-opacity="0.32"/>
<circle cx="487.0" cy="248.7" r="5.8" fill="#999aa0" fill-opacity="0.29"/>
<circle cx="474.8" cy="229.9" r="5.5" fill="#999aa0" fill-opacity="0.23"/>
<circle cx="524.7" cy="242.7" r="5.7" fill="#999aa0" fill-opacity="0.27"/>
<circle cx="498.8" cy="243.3" r="5.7" fill="#999aa0" fill-opacity="0.28"/>
<circle cx="493.7" cy="240.5" r="5.6" fill="#999aa0" fill-opacity="0.27"/>
<circle cx="472.6" cy="243.6" r="5.7" fill="#999aa0" fill-opacity="0.28"/>
<circle cx="525.8" cy="228.1" r="5.5" fill="#999aa0" fill-opacity="0.23"/>
<circle cx="512.8" cy="243.1" r="5.7" fill="#999aa0" fill-opacity="0.28"/>
<circle cx="96.0" cy="143.0" r="6.1" fill="#999aa0" fill-opacity="0.38"/>
<circle cx="104.0" cy="147.0" r="6.1" fill="#999aa0" fill-opacity="0.37"/>
<circle cx="92.0" cy="152.0" r="6.0" fill="#999aa0" fill-opacity="0.35"/>
<circle cx="100.0" cy="155.0" r="6.0" fill="#999aa0" fill-opacity="0.34"/>
<circle cx="110.0" cy="150.0" r="6.0" fill="#999aa0" fill-opacity="0.36"/>
<circle cx="128.0" cy="150.0" r="6.0" fill="#999aa0" fill-opacity="0.36"/>
<circle cx="136.0" cy="147.0" r="6.1" fill="#999aa0" fill-opacity="0.37"/>
<circle cx="140.0" cy="153.0" r="6.0" fill="#999aa0" fill-opacity="0.35"/>
<circle cx="132.0" cy="156.0" r="5.9" fill="#999aa0" fill-opacity="0.34"/>
<circle cx="105.0" cy="128.0" r="6.3" fill="#999aa0" fill-opacity="0.43"/>
<circle cx="102.0" cy="136.0" r="6.2" fill="#999aa0" fill-opacity="0.40"/>
<circle cx="98.0" cy="140.0" r="6.2" fill="#999aa0" fill-opacity="0.39"/>
<circle cx="145.0" cy="132.0" r="6.3" fill="#999aa0" fill-opacity="0.42"/>
<circle cx="148.0" cy="138.0" r="6.2" fill="#999aa0" fill-opacity="0.40"/>
<circle cx="177.4" cy="66.0" r="8.0" fill="#e55a37" fill-opacity="0.75"/>
<circle cx="174.6" cy="82.2" r="7.6" fill="#e55a37" fill-opacity="0.68"/>
<circle cx="138.5" cy="72.9" r="7.0" fill="#e55a37" fill-opacity="0.62"/>
<circle cx="116.4" cy="80.5" r="7.2" fill="#e55a37" fill-opacity="0.62"/>
<circle cx="117.7" cy="88.8" r="7.2" fill="#e55a37" fill-opacity="0.62"/>
<circle cx="149.6" cy="85.4" r="7.0" fill="#e55a37" fill-opacity="0.60"/>
<circle cx="115.4" cy="123.1" r="6.4" fill="#e55a37" fill-opacity="0.55"/>
<circle cx="142.2" cy="119.9" r="6.4" fill="#e55a37" fill-opacity="0.55"/>
<circle cx="162.9" cy="125.7" r="6.2" fill="#e55a37" fill-opacity="0.50"/>
<circle cx="141.4" cy="135.9" r="6.4" fill="#e55a37" fill-opacity="0.55"/>
<circle cx="259.6" cy="56.6" r="8.1" fill="#e55a37" fill-opacity="0.75"/>
<circle cx="272.0" cy="89.6" r="7.0" fill="#e55a37" fill-opacity="0.62"/>
<circle cx="290.7" cy="95.4" r="7.0" fill="#e55a37" fill-opacity="0.62"/>
<circle cx="273.2" cy="103.6" r="7.0" fill="#e55a37" fill-opacity="0.62"/>
<circle cx="243.4" cy="111.2" r="7.0" fill="#e55a37" fill-opacity="0.62"/>
<circle cx="290.7" cy="112.4" r="7.0" fill="#e55a37" fill-opacity="0.60"/>
<circle cx="294.8" cy="109.5" r="7.0" fill="#e55a37" fill-opacity="0.60"/>
<circle cx="300.1" cy="116.5" r="7.0" fill="#e55a37" fill-opacity="0.60"/>
<circle cx="240.9" cy="128.2" r="6.2" fill="#e55a37" fill-opacity="0.55"/>
<circle cx="251.1" cy="130.1" r="6.2" fill="#e55a37" fill-opacity="0.55"/>
<circle cx="275.6" cy="131.2" r="6.5" fill="#e55a37" fill-opacity="0.55"/>
<circle cx="412.1" cy="61.2" r="7.7" fill="#e55a37" fill-opacity="0.75"/>
<circle cx="388.5" cy="67.4" r="7.4" fill="#e55a37" fill-opacity="0.70"/>
<circle cx="417.0" cy="79.2" r="7.4" fill="#e55a37" fill-opacity="0.68"/>
<circle cx="370.5" cy="87.2" r="7.0" fill="#e55a37" fill-opacity="0.62"/>
<circle cx="371.1" cy="95.3" r="7.0" fill="#e55a37" fill-opacity="0.62"/>
<circle cx="408.3" cy="89.7" r="7.0" fill="#e55a37" fill-opacity="0.62"/>
<circle cx="427.0" cy="93.4" r="7.0" fill="#e55a37" fill-opacity="0.62"/>
<circle cx="420.8" cy="98.4" r="7.0" fill="#e55a37" fill-opacity="0.62"/>
<circle cx="409.6" cy="102.7" r="7.0" fill="#e55a37" fill-opacity="0.60"/>
<circle cx="379.5" cy="107.5" r="7.0" fill="#e55a37" fill-opacity="0.60"/>
<circle cx="365.2" cy="121.9" r="6.5" fill="#e55a37" fill-opacity="0.55"/>
<circle cx="396.6" cy="121.9" r="6.5" fill="#e55a37" fill-opacity="0.55"/>
<circle cx="391.5" cy="147.3" r="5.5" fill="#e55a37" fill-opacity="0.50"/>
<circle cx="506.2" cy="88.6" r="7.4" fill="#e55a37" fill-opacity="0.68"/>
<circle cx="533.3" cy="99.2" r="7.0" fill="#e55a37" fill-opacity="0.62"/>
<circle cx="548.5" cy="96.5" r="7.4" fill="#e55a37" fill-opacity="0.68"/>
<circle cx="97.8" cy="332.4" r="7.3" fill="#4682b4" fill-opacity="0.71"/>
<circle cx="214.6" cy="363.1" r="8.0" fill="#4682b4" fill-opacity="0.85"/>
<circle cx="239.5" cy="270.3" r="5.8" fill="#4682b4" fill-opacity="0.55"/>
<circle cx="200.8" cy="266.0" r="5.6" fill="#4682b4" fill-opacity="0.50"/>
<circle cx="195.8" cy="268.6" r="5.6" fill="#4682b4" fill-opacity="0.50"/>
<circle cx="318.0" cy="278.4" r="5.8" fill="#4682b4" fill-opacity="0.55"/>
<circle cx="340.3" cy="276.7" r="5.8" fill="#4682b4" fill-opacity="0.55"/>
<circle cx="345.2" cy="294.7" r="6.3" fill="#4682b4" fill-opacity="0.60"/>
<circle cx="375.3" cy="261.8" r="5.5" fill="#4682b4" fill-opacity="0.45"/>
<circle cx="363.9" cy="344.1" r="7.9" fill="#4682b4" fill-opacity="0.85"/>
<circle cx="485.9" cy="285.4" r="6.1" fill="#4682b4" fill-opacity="0.60"/>
<circle cx="472.4" cy="297.7" r="6.3" fill="#4682b4" fill-opacity="0.62"/>
<circle cx="485.5" cy="298.2" r="6.3" fill="#4682b4" fill-opacity="0.62"/>
<circle cx="466.3" cy="305.2" r="6.5" fill="#4682b4" fill-opacity="0.65"/>
<circle cx="485.3" cy="319.2" r="6.8" fill="#4682b4" fill-opacity="0.68"/>
<circle cx="498.8" cy="317.7" r="6.8" fill="#4682b4" fill-opacity="0.68"/>
<circle cx="473.3" cy="334.5" r="7.0" fill="#4682b4" fill-opacity="0.68"/>
<circle cx="473.6" cy="343.3" r="7.0" fill="#4682b4" fill-opacity="0.70"/>
<circle cx="482.6" cy="359.1" r="7.5" fill="#4682b4" fill-opacity="0.75"/>
<circle cx="503.9" cy="363.4" r="7.8" fill="#4682b4" fill-opacity="0.75"/>
<circle cx="455.8" cy="374.5" r="8.0" fill="#4682b4" fill-opacity="0.80"/>
<circle cx="488.3" cy="380.8" r="8.3" fill="#4682b4" fill-opacity="0.85"/>
<circle cx="467.2" cy="398.5" r="8.7" fill="#4682b4" fill-opacity="0.90"/>
</g>
<line x1="44.5" x2="575.5" y1="158.5" y2="158.5" stroke="#474747" stroke-width="1"/>
<line x1="44.5" x2="575.5" y1="260.0" y2="260.0" stroke="#3a3a3a" stroke-width="1"/>
<rect x="60" y="191.6" width="125" height="35.1" fill="#80cbbe"/>
<text x="121.25" y="213.9" font-size="11.9" text-anchor="middle" fill="#111111" stroke="#111111" stroke-width="0.2">CCDI</text>
<rect x="185" y="191.6" width="125" height="35.1" fill="#f3f2b0"/>
<text x="249.3" y="213.9" font-size="11.9" text-anchor="middle" fill="#111111" stroke="#111111" stroke-width="0.2">Magnesium</text>
<rect x="310" y="191.6" width="125" height="35.1" fill="#b1aed2"/>
<text x="371.9" y="213.9" font-size="11.9" text-anchor="middle" fill="#111111" stroke="#111111" stroke-width="0.2">Protein</text>
<rect x="435" y="191.6" width="125.60000000000002" height="35.1" fill="#f47f73"/>
<text x="496.75" y="213.9" font-size="11.9" text-anchor="middle" fill="#111111" stroke="#111111" stroke-width="0.2">Starch</text>
<text x="174.2" y="72.7" font-size="8.5" font-style="italic" text-anchor="end" fill="#111111" stroke="#111111" stroke-width="0.05">Lacrimispora amygdalina</text>
<text x="170.4" y="81.0" font-size="8.5" font-style="italic" text-anchor="end" fill="#111111" stroke="#111111" stroke-width="0.05">Firmicutes GGB51647 SGB4348</text>
<text x="167.0" y="90.3" font-size="8.5" font-style="italic" text-anchor="end" fill="#111111" stroke="#111111" stroke-width="0.05">Anaerostipes hadrus</text>
<text x="161.5" y="98.1" font-size="8.5" font-style="italic" text-anchor="end" fill="#111111" stroke="#111111" stroke-width="0.05">Megamonas funiformis</text>
<text x="169.5" y="118.9" font-size="8.5" font-style="italic" text-anchor="end" fill="#111111" stroke="#111111" stroke-width="0.05">Coprococcus eutactus</text>
<text x="218.1" y="56.0" font-size="8.5" font-style="italic" text-anchor="start" fill="#111111" stroke="#111111" stroke-width="0.05">Waltera intestinalis</text>
<text x="195.3" y="89.0" font-size="8.5" font-style="italic" text-anchor="start" fill="#111111" stroke="#111111" stroke-width="0.05">Megamonas funiformis</text>
<text x="281.7" y="94.7" font-size="8.5" font-style="italic" text-anchor="start" fill="#111111" stroke="#111111" stroke-width="0.05">Eubacterium ventriosum</text>
<text x="199.9" y="102.9" font-size="8.5" font-style="italic" text-anchor="start" fill="#111111" stroke="#111111" stroke-width="0.05">Anaerotignum faecicola</text>
<text x="213.2" y="115.2" font-size="8.5" font-style="italic" text-anchor="start" fill="#111111" stroke="#111111" stroke-width="0.05">Eubacterium siraeum</text>
<text x="343.8" y="61.1" font-size="8.5" font-style="italic" text-anchor="start" fill="#111111" stroke="#111111" stroke-width="0.05">Bacteroides nordii</text>
<text x="373.8" y="72.1" font-size="8.5" font-style="italic" text-anchor="start" fill="#111111" stroke="#111111" stroke-width="0.05">Candidatus Cibionibacter quicibialis</text>
<text x="326.0" y="78.7" font-size="8.5" font-style="italic" text-anchor="start" fill="#111111" stroke="#111111" stroke-width="0.05">Megamonas funiformis</text>
<text x="335.9" y="87.3" font-size="8.5" font-style="italic" text-anchor="start" fill="#111111" stroke="#111111" stroke-width="0.05">Vescimonas coprocola</text>
<text x="374.8" y="100.2" font-size="8.5" font-style="italic" text-anchor="start" fill="#111111" stroke="#111111" stroke-width="0.05">Fusicatenibacter saccharivorans</text>
<text x="328.3" y="108.7" font-size="8.5" font-style="italic" text-anchor="start" fill="#111111" stroke="#111111" stroke-width="0.05">Bilophila wadsworthia</text>
<text x="326.7" y="130.6" font-size="8.5" font-style="italic" text-anchor="start" fill="#111111" stroke="#111111" stroke-width="0.05">Collinsella aerofaciens</text>
<text x="439.5" y="107.5" font-size="8.5" font-style="italic" text-anchor="start" fill="#111111" stroke="#111111" stroke-width="0.05">Firmicutes GGB51510 SGB71883</text>
<text x="198.0" y="276.2" font-size="8.5" font-style="italic" text-anchor="start" fill="#111111" stroke="#111111" stroke-width="0.05">Mogibacterium diversum</text>
<text x="308.4" y="352.0" font-size="8.5" font-style="italic" text-anchor="start" fill="#111111" stroke="#111111" stroke-width="0.05">Erysipelatoclostridium ramosum</text>
<text x="451.4" y="334.2" font-size="8.5" font-style="italic" text-anchor="start" fill="#111111" stroke="#111111" stroke-width="0.05">Megamonas funiformis</text>
<text x="442.6" y="342.9" font-size="8.5" font-style="italic" text-anchor="start" fill="#111111" stroke="#111111" stroke-width="0.05">Candidatus Cibionibacter quicibialis</text>
<text x="468.9" y="362.7" font-size="8.5" font-style="italic" text-anchor="start" fill="#111111" stroke="#111111" stroke-width="0.05">Bacteroides nordii</text>
<text x="461.4" y="380.2" font-size="8.5" font-style="italic" text-anchor="start" fill="#111111" stroke="#111111" stroke-width="0.05">Vescimonas coprocola</text>
<text x="451.9" y="389.3" font-size="8.5" font-style="italic" text-anchor="start" fill="#111111" stroke="#111111" stroke-width="0.05">Collinsella aerofaciens</text>
<text x="456.1" y="406.0" font-size="8.5" font-style="italic" text-anchor="start" fill="#111111" stroke="#111111" stroke-width="0.05">Eubacterium rectale</text>
<line x1="44.5" x2="576" y1="15.5" y2="15.5" stroke="#9a9393" stroke-width="1"/>
<line x1="44" x2="576" y1="416.5" y2="416.5" stroke="#a09898" stroke-width="1"/>
<line x1="44.7" x2="44.7" y1="16" y2="417" stroke="#929292" stroke-width="1.1"/>
<line x1="575.5" x2="575.5" y1="15" y2="417" stroke="#757575" stroke-width="1"/>
<line x1="119.5" x2="119.5" y1="416.5" y2="421" stroke="#8a8a8a" stroke-width="1"/>
<text x="118.5" y="435.6" font-size="11.6" text-anchor="middle" fill="#111111" stroke="#111111" stroke-width="0.2">High<tspan dx="1.1"> vs.</tspan><tspan dx="-1.7"> Low</tspan></text>
<line x1="244.5" x2="244.5" y1="416.5" y2="421" stroke="#8a8a8a" stroke-width="1"/>
<text x="244.3" y="436.3" font-size="11.6" text-anchor="middle" fill="#111111" stroke="#111111" stroke-width="0.2">High<tspan dx="1.1"> vs.</tspan><tspan dx="-1.7"> Low</tspan></text>
<line x1="369.5" x2="369.5" y1="416.5" y2="421" stroke="#8a8a8a" stroke-width="1"/>
<text x="370.1" y="437.0" font-size="11.6" text-anchor="middle" fill="#111111" stroke="#111111" stroke-width="0.2">High<tspan dx="1.1"> vs.</tspan><tspan dx="-1.7"> Low</tspan></text>
<line x1="494.5" x2="494.5" y1="416.5" y2="421" stroke="#8a8a8a" stroke-width="1"/>
<text x="496.8" y="436.8" font-size="11.6" text-anchor="middle" fill="#111111" stroke="#111111" stroke-width="0.2">High<tspan dx="1.1"> vs.</tspan><tspan dx="-1.7"> Low</tspan></text>
<text transform="translate(32.4,213.9) rotate(-90)" font-size="12.5" text-anchor="middle" fill="#111111" stroke="#111111" stroke-width="0.15">Coef. Assessed by MaAsLin2</text>
<text x="592.0" y="97.9" font-size="11.6" fill="#1a1a1a">Abs (Coef.)</text>
<circle cx="597.1" cy="109.4" r="5.3" fill="#5f5a58"/>
<text x="611.8" y="113.2" font-size="10.5" fill="#1a1a1a">0.5</text>
<circle cx="597.1" cy="124.8" r="6.5" fill="#333333"/>
<text x="611.8" y="129.4" font-size="10.5" fill="#1a1a1a">1.0</text>
<circle cx="597.1" cy="142" r="7.6" fill="#151515"/>
<text x="611.8" y="145.8" font-size="10.5" fill="#1a1a1a">1.5</text>
<circle cx="597.1" cy="162" r="8.4" fill="#000000"/>
<text x="611.8" y="165.8" font-size="10.5" fill="#1a1a1a">2.0</text>
<circle cx="586.6" cy="208.3" r="2.3" fill="#4682b4"/>
<text x="595.6" y="212" font-size="10.6" fill="#1a1a1a">Down (qval &lt; 0.1)</text>
<circle cx="586.6" cy="222.6" r="2.3" fill="#b4b4b4"/>
<text x="595.6" y="225.7" font-size="10.6" fill="#1a1a1a">Normal (qval ≥ 0.1)</text>
<circle cx="586.6" cy="236.3" r="2.3" fill="#e5673f"/>
<text x="595.6" y="239.4" font-size="10.6" fill="#1a1a1a">Up (qval &lt; 0.1)</text>
<text x="12.6" y="481.2" font-size="23" font-weight="bold" fill="#111111">B</text>
<text x="323.9" y="479.8" font-size="12.1" fill="#111111" stroke="#111111" stroke-width="0.12">Altered Gut Microbial Functional Pathways in ASD</text>
<line x1="363.2" x2="363.2" y1="487" y2="784" stroke="#ebebeb" stroke-width="1"/>
<line x1="398.4" x2="398.4" y1="487" y2="784" stroke="#ebebeb" stroke-width="1"/>
<line x1="433.5" x2="433.5" y1="487" y2="784" stroke="#ebebeb" stroke-width="1"/>
<line x1="468.7" x2="468.7" y1="487" y2="784" stroke="#ebebeb" stroke-width="1"/>
<line x1="503.8" x2="503.8" y1="487" y2="784" stroke="#ebebeb" stroke-width="1"/>
<line x1="539.0" x2="539.0" y1="487" y2="784" stroke="#ebebeb" stroke-width="1"/>
<line x1="574.1" x2="574.1" y1="487" y2="784" stroke="#ebebeb" stroke-width="1"/>
<line x1="333.9" x2="576.4" y1="510.9" y2="510.9" stroke="#ebebeb" stroke-width="1"/>
<line x1="333.9" x2="576.4" y1="528.0" y2="528.0" stroke="#ebebeb" stroke-width="1"/>
<line x1="333.9" x2="576.4" y1="545.2" y2="545.2" stroke="#ebebeb" stroke-width="1"/>
<line x1="333.9" x2="576.4" y1="562.3" y2="562.3" stroke="#ebebeb" stroke-width="1"/>
<line x1="333.9" x2="576.4" y1="579.4" y2="579.4" stroke="#ebebeb" stroke-width="1"/>
<line x1="333.9" x2="576.4" y1="596.5" y2="596.5" stroke="#ebebeb" stroke-width="1"/>
<line x1="333.9" x2="576.4" y1="613.7" y2="613.7" stroke="#ebebeb" stroke-width="1"/>
<line x1="333.9" x2="576.4" y1="630.8" y2="630.8" stroke="#ebebeb" stroke-width="1"/>
<line x1="333.9" x2="576.4" y1="647.9" y2="647.9" stroke="#ebebeb" stroke-width="1"/>
<line x1="333.9" x2="576.4" y1="665.1" y2="665.1" stroke="#ebebeb" stroke-width="1"/>
<line x1="333.9" x2="576.4" y1="682.2" y2="682.2" stroke="#ebebeb" stroke-width="1"/>
<line x1="333.9" x2="576.4" y1="699.3" y2="699.3" stroke="#ebebeb" stroke-width="1"/>
<line x1="333.9" x2="576.4" y1="716.5" y2="716.5" stroke="#ebebeb" stroke-width="1"/>
<line x1="333.9" x2="576.4" y1="733.6" y2="733.6" stroke="#ebebeb" stroke-width="1"/>
<line x1="333.9" x2="576.4" y1="750.7" y2="750.7" stroke="#ebebeb" stroke-width="1"/>
<text x="329.8" y="514.4" font-size="9.5" text-anchor="end" fill="#2b2b2b" stroke="#2b2b2b" stroke-width="0.06">PWY7371: 1,4-Dihydroxy-6-naphthoate biosynthesis II</text>
<text x="329.8" y="531.5" font-size="9.5" text-anchor="end" fill="#2b2b2b" stroke="#2b2b2b" stroke-width="0.06">PWY6292: Superpathway of L-cysteine biosynthesis</text>
<text x="331.0" y="548.7" font-size="9.5" text-anchor="end" fill="#2b2b2b" stroke="#2b2b2b" stroke-width="0.06">PWY6700: Queuosine biosynthesis I (<tspan font-style="italic">de novo</tspan>)</text>
<text x="327.4" y="565.8" font-size="9.5" text-anchor="end" fill="#2b2b2b" stroke="#2b2b2b" stroke-width="0.06">PWY7560: Methylerythritol phosphate pathway II</text>
<text x="328.6" y="582.9" font-size="9.5" text-anchor="end" fill="#2b2b2b" stroke="#2b2b2b" stroke-width="0.06">PWY6609: Adenine and adenosine salvage III</text>
<text x="329.1" y="600.0" font-size="9.5" text-anchor="end" fill="#2b2b2b" stroke="#2b2b2b" stroke-width="0.06">PWY622: Starch biosynthesis</text>
<text x="329.1" y="617.2" font-size="9.5" text-anchor="end" fill="#2b2b2b" stroke="#2b2b2b" stroke-width="0.06">PWY6527: Stachyose degradation</text>
<text x="329.1" y="634.3" font-size="9.5" text-anchor="end" fill="#2b2b2b" stroke="#2b2b2b" stroke-width="0.06">PWY6901: Superpathway of glucose and xylose degradation</text>
<text x="332.2" y="651.4" font-size="9.5" text-anchor="end" fill="#2b2b2b" stroke="#2b2b2b" stroke-width="0.06">PENTOSE-P-PWY: Pentose phosphate pathway</text>
<text x="332.0" y="668.6" font-size="9.5" text-anchor="end" fill="#2b2b2b" stroke="#2b2b2b" stroke-width="0.06">ANAEROFRUCAT-PWY: Homolactic.fermentation</text>
<text x="329.7" y="685.7" font-size="9.5" text-anchor="end" fill="#2b2b2b" stroke="#2b2b2b" stroke-width="0.06">GLYCOLYSIS:Gglycolysis I from glucose-6 phosphate</text>
<text x="327.1" y="702.8" font-size="9.5" text-anchor="end" fill="#2b2b2b" stroke="#2b2b2b" stroke-width="0.06">PWY5484: Glycolysis II from fructose-6 phosphate</text>
<text x="325.9" y="720.0" font-size="9.5" text-anchor="end" fill="#2b2b2b" stroke="#2b2b2b" stroke-width="0.06">PWY4041: Gamma-glutamyl cycle</text>
<text x="332.5" y="737.1" font-size="9.5" text-anchor="end" fill="#2b2b2b" stroke="#2b2b2b" stroke-width="0.06">PWY7117: C4-photosynthetic carbon assimilation cycle (PEPCK-type)</text>
<text x="329.4" y="754.2" font-size="9.5" text-anchor="end" fill="#2b2b2b" stroke="#2b2b2b" stroke-width="0.06">FASYN-INITIAL-PWY: Superpathway of fatty acid biosynthesis initiation (<tspan font-style="italic">E.coli</tspan>)</text>
<path d="M335.9,511.1 L344.9,502.1 L353.9,511.1 L344.9,520.1 Z" fill="#2753a9"/>
<rect x="558.4" y="520.9" width="14.4" height="14.2" fill="#d9857a"/>
<rect x="508.9" y="536.6" width="17.6" height="17.2" fill="#c4aaa8"/>
<rect x="511.5" y="557.0" width="10.7" height="10.8" fill="#c2a9a8"/>
<rect x="508.3" y="574.2" width="10.7" height="10.7" fill="#bfadad"/>
<path d="M426.7,586.1 L436.0,601.9 L417.5,601.9 Z" fill="#7b6db5"/>
<circle cx="527.1" cy="613.7" r="6.1" fill="#c99a94"/>
<circle cx="482.2" cy="630.8" r="7.1" fill="#a49cbf"/>
<circle cx="478.8" cy="648.2" r="7.3" fill="#a59bbf"/>
<circle cx="474.4" cy="665.2" r="8.7" fill="#a396c1"/>
<circle cx="467.5" cy="682.3" r="9.6" fill="#9f90c4"/>
<circle cx="467.2" cy="699.4" r="9.6" fill="#9f90c4"/>
<circle cx="459.9" cy="716.5" r="6.2" fill="#9a8bc3"/>
<circle cx="447.5" cy="733.5" r="6.5" fill="#8e80bf"/>
<circle cx="364.9" cy="750.9" r="8.9" fill="#3f52a4"/>
<path d="M390.4,738.4 L401.5,757.1 L379.2,757.1 Z" fill="#5b55a5"/>
<text x="363.2" y="793.5" font-size="8.4" text-anchor="middle" fill="#4d4d4d">-1.0</text>
<text x="433.5" y="793.5" font-size="8.4" text-anchor="middle" fill="#4d4d4d">-0.5</text>
<text x="503.8" y="793.5" font-size="8.4" text-anchor="middle" fill="#4d4d4d">0.0</text>
<text x="574.1" y="793.5" font-size="8.4" text-anchor="middle" fill="#4d4d4d">0.5</text>
<text x="469.7" y="805.2" font-size="12.2" text-anchor="middle" fill="#111111" stroke="#111111" stroke-width="0.1">Coef. Assessed by MaAsLin2</text>
<text x="586.6" y="511.7" font-size="10.8" fill="#1a1a1a">Coef. (MaAsLin2)</text>
<defs><linearGradient id="cg" x1="0" y1="0" x2="0" y2="1">
<stop offset="0" stop-color="#d4766a"/><stop offset="0.28" stop-color="#b7b1b5"/>
<stop offset="0.53" stop-color="#8b7db8"/><stop offset="0.78" stop-color="#5a56a4"/><stop offset="1" stop-color="#2e5cad"/>
</linearGradient></defs>
<rect x="585.9" y="520.2" width="14.3" height="69" fill="url(#cg)"/>
<line x1="585.9" x2="588.8" y1="522.1" y2="522.1" stroke="#ffffff" stroke-width="0.8"/>
<line x1="597.4" x2="600.2" y1="522.1" y2="522.1" stroke="#ffffff" stroke-width="0.8"/>
<text x="604.4" y="525.0" font-size="8.3" fill="#4d4d4d">0.4</text>
<line x1="585.9" x2="588.8" y1="539.5" y2="539.5" stroke="#ffffff" stroke-width="0.8"/>
<line x1="597.4" x2="600.2" y1="539.5" y2="539.5" stroke="#ffffff" stroke-width="0.8"/>
<text x="604.4" y="542.4" font-size="8.3" fill="#4d4d4d">0.0</text>
<line x1="585.9" x2="588.8" y1="557.1" y2="557.1" stroke="#ffffff" stroke-width="0.8"/>
<line x1="597.4" x2="600.2" y1="557.1" y2="557.1" stroke="#ffffff" stroke-width="0.8"/>
<text x="604.4" y="560.0" font-size="8.3" fill="#4d4d4d">–0.4</text>
<line x1="585.9" x2="588.8" y1="574.3" y2="574.3" stroke="#ffffff" stroke-width="0.8"/>
<line x1="597.4" x2="600.2" y1="574.3" y2="574.3" stroke="#ffffff" stroke-width="0.8"/>
<text x="604.4" y="577.2" font-size="8.3" fill="#4d4d4d">–0.8</text>
<text x="583.8" y="613.8" font-size="10.8" fill="#1a1a1a">Class</text>
<circle cx="589.5" cy="624.4" r="2.4" fill="#000"/>
<path d="M589.5,636.0 L592.4,641.0 L586.6,641.0 Z" fill="#000"/>
<rect x="587.1" y="650.7" width="4.8" height="4.8" fill="#000"/>
<path d="M589.5,664.6 L592.2,667.3 L589.5,670.0 L586.8,667.3 Z" fill="#000"/>
<text x="602" y="628.4" font-size="8.4" fill="#1a1a1a">CCDI</text>
<text x="602" y="642.0" font-size="8.4" fill="#1a1a1a">Magnesium</text>
<text x="602" y="655.7" font-size="8.4" fill="#1a1a1a">Protein</text>
<text x="602" y="669.7" font-size="8.4" fill="#1a1a1a">Starch</text>
<text x="583.8" y="698.0" font-size="10.8" fill="#1a1a1a">Significance (qval)</text>
<circle cx="594.8" cy="714.9" r="9.0" fill="#000"/>
<text x="610.3" y="717.6" font-size="8.6" fill="#1a1a1a">0.025</text>
<circle cx="594.8" cy="736.1" r="8.0" fill="#000"/>
<text x="610.3" y="738.5" font-size="8.6" fill="#1a1a1a">0.05</text>
<circle cx="594.8" cy="755.0" r="7.1" fill="#000"/>
<text x="610.3" y="758.3" font-size="8.6" fill="#1a1a1a">0.075</text>
</svg></body></html>
